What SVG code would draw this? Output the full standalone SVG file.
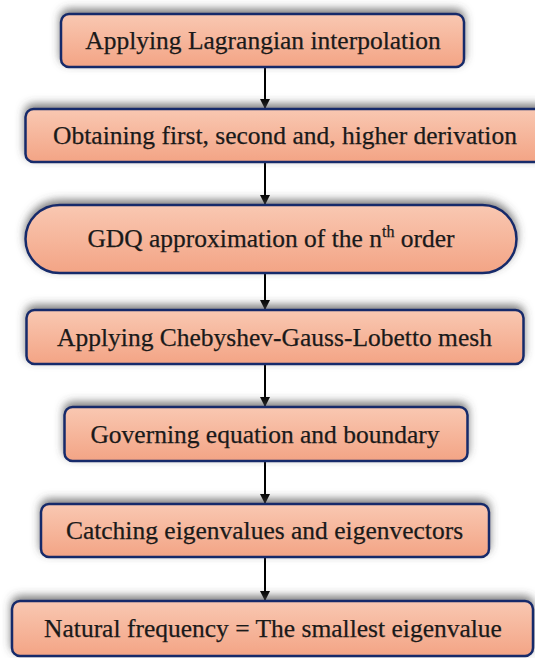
<svg xmlns="http://www.w3.org/2000/svg" width="535" height="658" viewBox="0 0 535 658">
<defs>
<linearGradient id="fillg" x1="0" y1="0" x2="0" y2="1">
<stop offset="0" stop-color="#f9c8b2"/>
<stop offset="1" stop-color="#f3a485"/>
</linearGradient>
<filter id="sh" x="-10%" y="-40%" width="120%" height="180%">
<feDropShadow dx="0" dy="-4" stdDeviation="4" flood-color="#444" flood-opacity="0.7"/>
</filter>
<marker id="ah" viewBox="0 0 10 10" refX="10" refY="5" markerWidth="5" markerHeight="5" orient="auto" markerUnits="strokeWidth">
<path d="M0,0 L10,5 L0,10 Z" fill="#000"/>
</marker>
</defs>
<style>
.box{fill:url(#fillg);stroke:#162b6b;stroke-width:2.5;filter:url(#sh)}
.lbl{font-family:"Liberation Serif","Times New Roman",serif;font-size:25.5px;fill:#1a1a1a;stroke:#1a1a1a;stroke-width:0.25;text-anchor:middle}
.con{stroke:#000;stroke-width:2;fill:none;marker-end:url(#ah)}
</style>
<rect width="535" height="658" fill="#fff"/>
<g id="connectors">
<line class="con" x1="265" y1="67" x2="265" y2="109"/>
<line class="con" x1="265" y1="162" x2="265" y2="205"/>
<line class="con" x1="265" y1="273" x2="265" y2="310"/>
<line class="con" x1="265" y1="364" x2="265" y2="407"/>
<line class="con" x1="265" y1="461" x2="265" y2="504"/>
<line class="con" x1="265" y1="557" x2="265" y2="601"/>
</g>
<g id="n1">
<rect class="box" x="61" y="14" width="403" height="53" rx="8"/>
<text class="lbl" x="263" y="49">Applying Lagrangian interpolation</text>
</g>
<g id="n2">
<rect class="box" x="25.5" y="109" width="522" height="53" rx="8"/>
<text class="lbl" x="285" y="144">Obtaining first, second and, higher derivation</text>
</g>
<g id="n3">
<rect class="box" x="25.5" y="205" width="491" height="68" rx="34"/>
<text class="lbl" x="271" y="247">GDQ approximation of the n<tspan font-size="16" dy="-10">th</tspan><tspan dy="10"> order</tspan></text>
</g>
<g id="n4">
<rect class="box" x="26.5" y="310" width="497" height="54" rx="8"/>
<text class="lbl" x="274.5" y="345.5">Applying Chebyshev-Gauss-Lobetto mesh</text>
</g>
<g id="n5">
<rect class="box" x="64.5" y="407" width="403" height="54" rx="8"/>
<text class="lbl" x="265" y="442.5">Governing equation and boundary</text>
</g>
<g id="n6">
<rect class="box" x="41" y="504" width="448" height="53" rx="8"/>
<text class="lbl" x="264.5" y="539">Catching eigenvalues and eigenvectors</text>
</g>
<g id="n7">
<rect class="box" x="12" y="601" width="521" height="55" rx="8"/>
<text class="lbl" x="273" y="637">Natural frequency = The smallest eigenvalue</text>
</g>
</svg>
